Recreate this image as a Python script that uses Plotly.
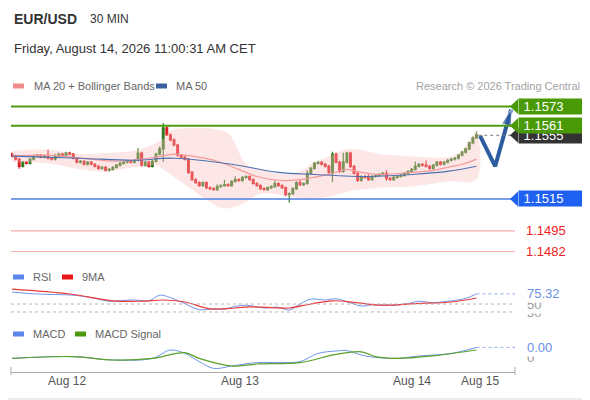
import plotly.graph_objects as go

# the page adds an 8px body margin, so the figure is drawn 8px smaller and every
# layout position below is given in page pixels and shifted by OFF
OFF = 8
W, H = 590 - OFF, 400 - OFF
FONT = "Arial, Liberation Sans, sans-serif"

# 30-minute EUR/USD candles (close prices); each bar opens at the previous close
closes = [
    1.15419, 1.15400, 1.15355, 1.15381, 1.15374, 1.15400, 1.15419, 1.15425, 1.15413, 1.15419,
    1.15406, 1.15400, 1.15419, 1.15432, 1.15425, 1.15438, 1.15431, 1.15406, 1.15381, 1.15387,
    1.15368, 1.15381, 1.15368, 1.15355, 1.15342, 1.15349, 1.15330, 1.15336, 1.15349, 1.15362,
    1.15374, 1.15381, 1.15387, 1.15381, 1.15393, 1.15438, 1.15362, 1.15381, 1.15355, 1.15387,
    1.15432, 1.15464, 1.15597, 1.15553, 1.15521, 1.15489, 1.15425, 1.15413, 1.15400, 1.15317,
    1.15272, 1.15253, 1.15234, 1.15253, 1.15221, 1.15215, 1.15209, 1.15228, 1.15234, 1.15240,
    1.15234, 1.15260, 1.15272, 1.15266, 1.15285, 1.15291, 1.15272, 1.15247, 1.15234, 1.15215,
    1.15209, 1.15221, 1.15228, 1.15247, 1.15234, 1.15221, 1.15177, 1.15183, 1.15215, 1.15253,
    1.15240, 1.15247, 1.15311, 1.15342, 1.15374, 1.15380, 1.15368, 1.15355, 1.15317, 1.15432,
    1.15381, 1.15323, 1.15381, 1.15438, 1.15355, 1.15311, 1.15266, 1.15291, 1.15285, 1.15272,
    1.15291, 1.15298, 1.15304, 1.15311, 1.15279, 1.15272, 1.15285, 1.15291, 1.15298, 1.15311,
    1.15323, 1.15336, 1.15355, 1.15368, 1.15362, 1.15355, 1.15342, 1.15362, 1.15381, 1.15368,
    1.15381, 1.15393, 1.15400, 1.15406, 1.15425, 1.15444, 1.15464, 1.15502, 1.15534, 1.15553,
]
first_open = 1.15432

# wick lengths beyond the body, in pips
upper_wick = [
    1, .8, .8, .8, .8, .8, .8, .8, .8, .8,
    4, .8, 1.5, .8, .8, .8, .8, .8, .8, .8,
    .8, .8, .8, .8, .8, .8, .8, .8, .8, .8,
    .8, .8, .8, .8, .8, 3, .8, .8, .8, .8,
    .8, 1.5, 3, 1.5, .8, .8, .8, .8, .8, .8,
    .8, .8, .8, .8, .8, .8, .8, 1.5, .8, 3,
    .8, .8, 2, .8, .8, .8, .8, .8, .8, .8,
    .8, .8, .8, 2, .8, .8, .8, .8, .8, .8,
    2, .8, 2, .8, .8, .8, .8, .8, 1, 1.5,
    .8, .8, 6, .8, .8, .8, 1, .8, .8, 2,
    .8, .8, .8, .8, 2, .8, .8, .8, .8, .8,
    .8, .8, 3, .8, .8, 3, .8, .8, .8, .8,
    .8, .8, .8, .8, .8, .8, .8, .8, .8, 2,
]
lower_wick = [
    .8, .8, 1.5, .8, .8, .8, .8, .8, .8, .8,
    .8, .8, .8, .8, .8, .8, .8, .8, .8, .8,
    .8, .8, .8, .8, .8, .8, .8, .8, .8, .8,
    .8, .8, .8, .8, .8, .8, .8, .8, .8, .8,
    .8, .8, 8, .8, .8, .8, 1, .8, .8, 1,
    .8, .8, .8, .8, .8, .8, .8, .8, .8, .8,
    .8, .8, .8, .8, .8, .8, .8, .8, .8, .8,
    .8, .8, .8, .8, .8, .8, 1, 5, .8, .8,
    .8, .8, .8, .8, .8, .8, .8, .8, .8, 6,
    .8, 1, .8, .8, 1, .8, 1, .8, .8, .8,
    .8, .8, .8, .8, 1.5, .8, .8, .8, .8, .8,
    .8, .8, .8, .8, .8, .8, .8, .8, .8, .8,
    .8, .8, .8, .8, .8, .8, .8, .8, .8, .8,
]

# Bollinger bands, MA20, MA50 (bar index, price)
bb_up_x = [0, 10, 19, 26, 34, 38, 42, 44, 50, 56, 60, 62, 64, 66, 70, 76, 80, 84, 88, 93, 97, 102, 111, 121, 125, 127, 129]
bb_up = [1.15453, 1.15459, 1.15432, 1.15438, 1.15453, 1.15483, 1.15527, 1.15578, 1.15597, 1.15591, 1.15565,
         1.15495, 1.15400, 1.15355, 1.15330, 1.15304, 1.15323, 1.15381, 1.15419, 1.15464, 1.15457, 1.15432,
         1.15419, 1.15413, 1.15451, 1.15514, 1.15572]
bb_lo_x = [0, 10, 19, 26, 34, 40, 42, 46, 50, 54, 58, 61, 65, 69, 74, 79, 82, 88, 93, 97, 102, 111, 121, 129]
bb_lo = [1.15381, 1.15374, 1.15336, 1.15323, 1.15349, 1.15362, 1.15336, 1.15272, 1.15209, 1.15145, 1.15094,
         1.15094, 1.15132, 1.15183, 1.15177, 1.15158, 1.15151, 1.15164, 1.15196, 1.15209, 1.15221, 1.15228,
         1.15260, 1.15272]
ma20_x = [0, 10, 19, 30, 40, 45, 50, 57, 63, 68, 75, 80, 88, 93, 97, 102, 111, 117, 121, 125, 129]
ma20 = [1.15419, 1.15425, 1.15406, 1.15387, 1.15413, 1.15432, 1.15419, 1.15387, 1.15336, 1.15291, 1.15266,
        1.15272, 1.15304, 1.15336, 1.15317, 1.15304, 1.15317, 1.15330, 1.15349, 1.15368, 1.15400]
ma50_x = [0, 19, 34, 45, 61, 74, 84, 99, 111, 121, 129]
ma50 = [1.15419, 1.15406, 1.15393, 1.15406, 1.15368, 1.15317, 1.15304, 1.15291, 1.15304, 1.15323, 1.15355]

# key levels
resistances = [1.1573, 1.1561]
last_price = 1.1555
pivot = 1.1515
supports = [1.1495, 1.1482]

# expected path (bar index, price)
scenario_x = [130, 134.2, 138.6]
scenario_y = [1.15546, 1.15355, 1.15712]

# RSI and its 9-period MA
rsi_x = [0, 5, 10, 17, 22, 27, 31, 34, 38, 41, 44, 47, 52, 56, 59, 62, 65, 70, 74, 77, 80, 83, 87, 90, 93,
         97, 100, 103, 107, 110, 113, 117, 120, 122, 126, 129]
rsi = [80, 76, 74, 72, 66, 57, 59, 60, 58, 72, 66, 55, 36, 38, 37, 44, 47, 40, 42, 35, 50, 62, 60, 63, 56,
       45, 48, 47, 48, 51, 57, 53, 56, 58, 64, 75.32]
rsi_ma_x = [0, 16, 28, 36, 42, 48, 55, 62, 66, 72, 77, 83, 89, 95, 103, 112, 122, 129]
rsi_ma = [87, 75, 58, 57, 60, 55, 38, 40, 43, 41, 40, 50, 58, 54, 47, 51, 55, 65]

# MACD and signal
macd_x = [0, 17, 28, 39, 44, 48, 52, 56, 61, 68, 74, 80, 85, 90, 93, 97, 101, 107, 113, 122, 129]
macd = [-0.00007, 0.00002, -0.00015, -0.00007, 0.00035, 0.00018, -0.00023, -0.00057, -0.00045, -0.00028,
        -0.00028, -0.00023, 0.00018, 0.00030, 0.00032, 0.00010, -0.00002, -0.00007, 0.00005, 0.00018, 0.00048]
signal_x = [0, 17, 28, 39, 48, 52, 61, 68, 80, 90, 97, 101, 107, 117, 129]
signal = [-0.00007, 0.00002, -0.00015, -0.00007, 0.00022, -0.00007, -0.00045, -0.00035, -0.00028, 0.00013,
          0.00026, 0.00002, -0.00007, 0.00006, 0.00035]

tick_vals = [15.3, 63.3, 111.1, 130]
tick_text = ["Aug 12", "Aug 13", "Aug 14", "Aug 15"]

X_RANGE = [-0.28, 139.7]
P_RANGE = [1.14754, 1.15803]

opens = [first_open] + closes[:-1]
highs = [max(o, c) + w * 0.0001 for o, c, w in zip(opens, closes, upper_wick)]
lows = [min(o, c) - w * 0.0001 for o, c, w in zip(opens, closes, lower_wick)]
bars = list(range(len(closes)))


def px_x(v):
    return (v - OFF) / W


def px_y(v):
    return 1 - (v - OFF) / H


fig = go.Figure()

fig.add_trace(go.Scatter(x=bb_up_x + bb_lo_x[::-1], y=bb_up + bb_lo[::-1], fill="toself",
                         fillcolor="rgba(250,190,190,0.38)", line=dict(width=0, shape="spline"),
                         hoverinfo="skip"))
fig.add_trace(go.Scatter(x=ma20_x, y=ma20, mode="lines", line=dict(color="#f39a9a", width=1.2, shape="spline")))
fig.add_trace(go.Scatter(x=ma50_x, y=ma50, mode="lines", line=dict(color="#4d70b3", width=1.1, shape="spline")))
fig.add_trace(go.Candlestick(x=bars, open=opens, high=highs, low=lows, close=closes, whiskerwidth=0,
                             increasing=dict(line=dict(color="#2f7a1c", width=1.2), fillcolor="#2f7a1c"),
                             decreasing=dict(line=dict(color="#dd1a1e", width=1.2), fillcolor="#dd1a1e")))
fig.add_trace(go.Scatter(x=scenario_x, y=scenario_y, mode="lines+markers", cliponaxis=False,
                         line=dict(color="#2c5c9f", width=4),
                         marker=dict(symbol="arrow", angleref="previous", size=[0, 0, 17], color="#2c5c9f")))

fig.add_trace(go.Scatter(x=rsi_x, y=rsi, yaxis="y2", mode="lines",
                         line=dict(color="#6f95ea", width=1, shape="spline")))
fig.add_trace(go.Scatter(x=rsi_ma_x, y=rsi_ma, yaxis="y2", mode="lines",
                         line=dict(color="#ec3a3a", width=1.2, shape="spline")))
fig.add_trace(go.Scatter(x=macd_x, y=macd, yaxis="y3", mode="lines",
                         line=dict(color="#6f95ea", width=1, shape="spline")))
fig.add_trace(go.Scatter(x=signal_x, y=signal, yaxis="y3", mode="lines",
                         line=dict(color="#5aa02a", width=1.2, shape="spline")))

shapes = []
annotations = []


def text(s, x, y, size=11, color="#666", anchor="left", bold=False):
    if bold:
        s = "<b>" + s + "</b>"
    annotations.append(dict(text=s, x=px_x(x), y=px_y(y), xref="paper", yref="paper", showarrow=False,
                            xanchor=anchor, yanchor="middle", font=dict(family=FONT, size=size, color=color)))


def swatch(x, y, color):
    shapes.append(dict(type="rect", xref="paper", yref="paper", x0=px_x(x), x1=px_x(x + 11),
                       y0=px_y(y + 2.5), y1=px_y(y - 2.5), fillcolor=color, line=dict(width=0)))


x_left, x_right = px_x(11), px_x(515)
box_x = px_x(518)
half = 7.5 * (P_RANGE[1] - P_RANGE[0]) / (262 - 95)


def level_line(p, color, width=1.5):
    shapes.append(dict(type="line", xref="paper", yref="y", x0=x_left, x1=x_right, y0=p, y1=p,
                       line=dict(color=color, width=width)))


def price_box(p, bg, label):
    shapes.append(dict(type="path", xref="paper", yref="y", fillcolor=bg, line=dict(width=0),
                       path=f"M {px_x(510)},{p} L {box_x},{p + half} L {box_x},{p - half} Z"))
    annotations.append(dict(text="\u00a0" + label, x=box_x, y=p, xref="paper", yref="y",
                            showarrow=False, xanchor="left", yanchor="middle", align="left",
                            width=67, height=13, borderpad=1, bgcolor=bg,
                            font=dict(family=FONT, size=13, color="white")))


# price levels
for p in resistances:
    level_line(p, "#4f9b12", 2)
level_line(pivot, "#4c7fe2", 1.5)
for p in supports:
    level_line(p, "#f5aaaa", 1.2)
shapes.append(dict(type="line", xref="x", yref="y", x0=bars[-1] + 0.5, x1=X_RANGE[1], y0=last_price,
                   y1=last_price, line=dict(color="#777", width=1, dash="dot")))

price_box(resistances[0], "#4a9a08", f"{resistances[0]:.4f}")
price_box(last_price, "#333333", f"{last_price:.4f}")
price_box(resistances[1], "#4a9a08", f"{resistances[1]:.4f}")
price_box(pivot, "#1f62f2", f"{pivot:.4f}")
for p in supports:
    annotations.append(dict(text=f"{p:.4f}", x=px_x(524), y=p, xref="paper", yref="y", showarrow=False,
                            xanchor="left", yanchor="middle",
                            font=dict(family=FONT, size=13, color="#ee1c1c")))

# RSI guides and labels
for lvl in (50, 30):
    shapes.append(dict(type="line", xref="paper", yref="y2", x0=x_left, x1=x_right, y0=lvl, y1=lvl,
                       line=dict(color="#b5b5b5", width=1, dash="dot")))
shapes.append(dict(type="line", xref="x", yref="y2", x0=rsi_x[-1], x1=X_RANGE[1], y0=rsi[-1], y1=rsi[-1],
                   line=dict(color="#8eaaf0", width=1, dash="dot")))
for val, label, color in [(30, "30", "#999"), (50, "50", "#999"), (rsi[-1], f"{rsi[-1]:.2f}", "#6d8fe6")]:
    annotations.append(dict(text=label, x=px_x(525), y=val, xref="paper", yref="y2", showarrow=False,
                            xanchor="left", yanchor="middle", bgcolor="white", borderpad=1,
                            font=dict(family=FONT, size=13, color=color)))

# MACD labels
shapes.append(dict(type="line", xref="x", yref="y3", x0=macd_x[-1], x1=X_RANGE[1], y0=macd[-1], y1=macd[-1],
                   line=dict(color="#8eaaf0", width=1, dash="dot")))
for val, label, color in [(0, "0", "#999"), (macd[-1], f"{macd[-1]:.2f}", "#6d8fe6")]:
    annotations.append(dict(text=label, x=px_x(525), y=val, xref="paper", yref="y3", showarrow=False,
                            xanchor="left", yanchor="middle", bgcolor="white", borderpad=1,
                            font=dict(family=FONT, size=13, color=color)))

# x-axis bracket
shapes.append(dict(type="line", xref="paper", yref="paper", x0=x_left, x1=x_right, y0=px_y(372.5),
                   y1=px_y(372.5), line=dict(color="#aaa", width=1)))
for xe in (11, 515):
    shapes.append(dict(type="line", xref="paper", yref="paper", x0=px_x(xe), x1=px_x(xe), y0=px_y(367),
                       y1=px_y(375), line=dict(color="#aaa", width=1)))

# frame
shapes.append(dict(type="rect", xref="paper", yref="paper", x0=px_x(0), x1=px_x(590), y0=px_y(400),
                   y1=px_y(0), line=dict(color="#e6ebf0", width=4)))

# header and legends
text("EUR/USD", 12, 19, 14, "#333", bold=True)
text("30 MIN", 88, 19, 12, "#333")
text("Friday, August 14, 2026 11:00:31 AM CET", 12, 48, 13, "#333")
swatch(13, 86, "#f28c8c")
text("MA 20 + Bollinger Bands", 32, 86, 11, "#666")
swatch(156, 86, "#3c5fa0")
text("MA 50", 174, 86, 11, "#666")
text("Research \u00a9 2026 Trading Central", 582, 86, 11, "#a3a3a3", anchor="right")
swatch(13, 277, "#5b86ea")
text("RSI", 31, 277, 11, "#666")
swatch(62, 277, "#e81515")
text("9MA", 80, 277, 11, "#666")
swatch(13, 334, "#5b86ea")
text("MACD", 31, 334, 11, "#666")
swatch(75, 334, "#4a9a10")
text("MACD Signal", 93, 334, 11, "#666")


def dom(top, bottom):
    return [px_y(bottom), px_y(top)]


hidden = dict(showgrid=False, zeroline=False, showticklabels=False, showline=False, fixedrange=True)
fig.update_layout(
    width=W, height=H, autosize=False,
    margin=dict(l=0, r=0, t=0, b=0),
    paper_bgcolor="white", plot_bgcolor="white",
    showlegend=False,
    font=dict(family=FONT),
    xaxis=dict(domain=[px_x(11), px_x(515)], range=X_RANGE, anchor="y3",
               tickvals=tick_vals, ticktext=tick_text, tickfont=dict(size=12, color="#555"),
               showgrid=False, zeroline=False, showline=False, ticks="",
               rangeslider=dict(visible=False)),
    yaxis=dict(domain=dom(95, 262), range=P_RANGE, **hidden),
    yaxis2=dict(domain=dom(284, 318), range=[15, 100], **hidden),
    yaxis3=dict(domain=dom(335, 372), range=[-0.00075, 0.0011], **hidden),
    shapes=shapes,
    annotations=annotations,
)

fig.write_html("out.html")
